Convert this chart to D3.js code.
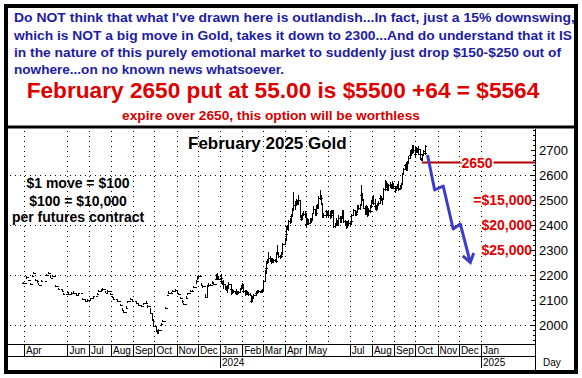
<!DOCTYPE html>
<html>
<head>
<meta charset="utf-8">
<script src="https://cdn.jsdelivr.net/npm/d3@7"></script>
<style>
  body { margin: 0; background: #fff; }
  svg { display: block; font-family: Arial, "Liberation Sans", sans-serif; }
</style>
</head>
<body>
<div id="chart"></div>
<script>
// --- texts ---
const noteLines = [
  "Do NOT think that what I've drawn here is outlandish...In fact, just a 15% downswing,",
  "which is NOT a big move in Gold, takes it down to 2300...And do understand that it IS",
  "in the nature of this purely emotional market to suddenly just drop $150-$250 out of",
  "nowhere...on no known news whatsoever."
];
const putLine = "February 2650 put at 55.00 is $5500 +64 = $5564";
const expireLine = "expire over 2650, this option will be worthless";
const chartTitle = "February 2025 Gold";
const moveNotes = ["$1 move = $100", "$100 = $10,000", "per futures contract"];

// --- axes ---
const yTicks = [2000, 2100, 2200, 2300, 2400, 2500, 2600, 2700];
const gridPrices = [2000, 2200, 2400, 2600];
const monthLabels = [
  ["2023-04-01", "Apr"], ["2023-06-01", "Jun"], ["2023-07-01", "Jul"], ["2023-08-01", "Aug"],
  ["2023-09-01", "Sep"], ["2023-10-01", "Oct"], ["2023-11-01", "Nov"], ["2023-12-01", "Dec"],
  ["2024-01-01", "Jan"], ["2024-02-01", "Feb"], ["2024-03-01", "Mar"], ["2024-04-01", "Apr"],
  ["2024-05-01", "May"], ["2024-07-01", "Jul"], ["2024-08-01", "Aug"], ["2024-09-01", "Sep"],
  ["2024-10-01", "Oct"], ["2024-11-01", "Nov"], ["2024-12-01", "Dec"], ["2025-01-01", "Jan"]
];
const gridMonths = [
  "2023-04-01", "2023-06-01", "2023-07-01", "2023-08-01", "2023-09-01", "2023-10-01",
  "2023-11-01", "2023-12-01", "2024-01-01", "2024-02-01", "2024-03-01", "2024-04-01",
  "2024-05-01", "2024-06-01", "2024-07-01", "2024-08-01", "2024-09-01", "2024-10-01",
  "2024-11-01", "2024-12-01", "2025-01-01"
];
const yearLabels = [["2024-01-01", "2024"], ["2025-01-01", "2025"]];

// --- option / projection ---
const strike = 2650;
const strikeStart = "2024-10-10";
const lossLabels = [["=$15,000", 2500], ["$20,000", 2400], ["$25,000", 2300]];
const arrowPath = [
  ["2024-10-18", 2680], ["2024-10-28", 2540], ["2024-11-09", 2556],
  ["2024-11-23", 2384], ["2024-12-03", 2404], ["2024-12-17", 2250]
];

// --- price bars: [date, high, low, close] ---
// 2023: thinly traded, scattered bars
const thin2023 = [
  ["2023-03-31", 2172, 2165, 2170], ["2023-04-04", 2195, 2185, 2192], ["2023-04-06", 2182, 2176, 2180],
  ["2023-04-10", 2170, 2162, 2165], ["2023-04-12", 2200, 2192, 2198], ["2023-04-13", 2212, 2205, 2208],
  ["2023-04-17", 2185, 2178, 2182], ["2023-04-19", 2178, 2170, 2175], ["2023-04-21", 2168, 2160, 2162],
  ["2023-04-25", 2180, 2172, 2178], ["2023-05-02", 2205, 2196, 2200], ["2023-05-04", 2212, 2205, 2210],
  ["2023-05-08", 2196, 2188, 2190], ["2023-05-10", 2200, 2193, 2198], ["2023-05-15", 2160, 2152, 2155],
  ["2023-05-18", 2150, 2140, 2145], ["2023-05-24", 2140, 2132, 2135], ["2023-05-26", 2130, 2122, 2125],
  ["2023-05-31", 2138, 2130, 2132], ["2023-06-02", 2128, 2120, 2125], ["2023-06-06", 2132, 2124, 2130],
  ["2023-06-09", 2135, 2128, 2130], ["2023-06-13", 2125, 2118, 2120], ["2023-06-16", 2130, 2122, 2128],
  ["2023-06-22", 2108, 2100, 2105], ["2023-06-26", 2100, 2092, 2095], ["2023-06-28", 2104, 2096, 2100],
  ["2023-07-03", 2110, 2102, 2108], ["2023-07-07", 2118, 2110, 2115], ["2023-07-12", 2128, 2120, 2125],
  ["2023-07-14", 2140, 2132, 2138], ["2023-07-18", 2145, 2138, 2142], ["2023-07-20", 2148, 2140, 2145],
  ["2023-07-24", 2135, 2128, 2130], ["2023-07-26", 2142, 2130, 2138], ["2023-07-31", 2130, 2122, 2125],
  ["2023-08-02", 2115, 2108, 2112], ["2023-08-04", 2110, 2100, 2105], ["2023-08-09", 2100, 2092, 2095],
  ["2023-08-14", 2085, 2078, 2080], ["2023-08-16", 2068, 2058, 2062], ["2023-08-18", 2058, 2050, 2052],
  ["2023-08-22", 2075, 2068, 2070], ["2023-08-24", 2098, 2090, 2095], ["2023-08-28", 2108, 2100, 2104],
  ["2023-08-31", 2100, 2092, 2096], ["2023-09-05", 2092, 2084, 2088], ["2023-09-08", 2085, 2078, 2080],
  ["2023-09-12", 2080, 2072, 2075], ["2023-09-15", 2090, 2082, 2088], ["2023-09-19", 2095, 2086, 2090],
  ["2023-09-21", 2080, 2070, 2075], ["2023-09-25", 2070, 2045, 2050], ["2023-09-27", 2050, 2015, 2020],
  ["2023-09-29", 2025, 1990, 1998], ["2023-10-03", 1990, 1972, 1978], ["2023-10-05", 1975, 1962, 1968],
  ["2023-10-06", 1985, 1965, 1980], ["2023-10-10", 2010, 1995, 2005], ["2023-10-12", 2022, 2012, 2018],
  ["2023-10-16", 2072, 2065, 2070], ["2023-10-18", 2122, 2115, 2120], ["2023-10-20", 2135, 2126, 2130],
  ["2023-10-24", 2132, 2125, 2128], ["2023-10-26", 2140, 2132, 2138], ["2023-10-30", 2145, 2136, 2140],
  ["2023-11-01", 2132, 2125, 2130], ["2023-11-03", 2128, 2120, 2125], ["2023-11-06", 2112, 2104, 2108],
  ["2023-11-08", 2100, 2090, 2095], ["2023-11-10", 2088, 2080, 2084], ["2023-11-14", 2115, 2105, 2110],
  ["2023-11-16", 2130, 2122, 2128], ["2023-11-20", 2140, 2132, 2135], ["2023-11-22", 2142, 2134, 2138],
  ["2023-11-24", 2155, 2148, 2152], ["2023-11-28", 2180, 2165, 2175], ["2023-11-30", 2195, 2180, 2190],
  ["2023-12-01", 2200, 2185, 2195], ["2023-12-05", 2170, 2155, 2160], ["2023-12-07", 2160, 2150, 2155],
  ["2023-12-11", 2125, 2108, 2112], ["2023-12-13", 2160, 2110, 2155], ["2023-12-15", 2170, 2158, 2162],
  ["2023-12-18", 2165, 2155, 2160], ["2023-12-20", 2175, 2165, 2170], ["2023-12-22", 2172, 2160, 2165],
  ["2023-12-26", 2190, 2180, 2185], ["2023-12-27", 2205, 2190, 2200], ["2023-12-28", 2208, 2185, 2190],
  ["2023-12-29", 2195, 2180, 2185]
];

const bars2024q1 = [
  ["2024-01-02", 2205, 2180, 2190], ["2024-01-03", 2192, 2165, 2170], ["2024-01-04", 2175, 2160, 2168],
  ["2024-01-05", 2180, 2145, 2165], ["2024-01-08", 2166, 2140, 2145], ["2024-01-09", 2155, 2140, 2150],
  ["2024-01-10", 2152, 2135, 2140], ["2024-01-11", 2160, 2130, 2150], ["2024-01-12", 2172, 2150, 2165],
  ["2024-01-16", 2166, 2140, 2145], ["2024-01-17", 2145, 2122, 2128], ["2024-01-18", 2142, 2125, 2138],
  ["2024-01-19", 2142, 2128, 2135], ["2024-01-22", 2138, 2125, 2130], ["2024-01-23", 2136, 2122, 2132],
  ["2024-01-24", 2145, 2128, 2130], ["2024-01-25", 2136, 2122, 2130], ["2024-01-26", 2138, 2126, 2132],
  ["2024-01-29", 2148, 2128, 2145], ["2024-01-30", 2152, 2140, 2148], ["2024-01-31", 2162, 2140, 2150],
  ["2024-02-01", 2170, 2148, 2160], ["2024-02-02", 2165, 2130, 2138], ["2024-02-05", 2140, 2118, 2125],
  ["2024-02-06", 2140, 2122, 2135], ["2024-02-07", 2138, 2128, 2132], ["2024-02-08", 2136, 2122, 2130],
  ["2024-02-09", 2132, 2118, 2124], ["2024-02-12", 2128, 2115, 2120], ["2024-02-13", 2122, 2092, 2098],
  ["2024-02-14", 2102, 2090, 2100], ["2024-02-15", 2115, 2095, 2112], ["2024-02-16", 2125, 2105, 2120],
  ["2024-02-20", 2132, 2118, 2128], ["2024-02-21", 2135, 2125, 2130], ["2024-02-22", 2140, 2126, 2132],
  ["2024-02-23", 2140, 2128, 2138], ["2024-02-26", 2138, 2128, 2132], ["2024-02-27", 2140, 2128, 2135],
  ["2024-02-28", 2142, 2130, 2138], ["2024-02-29", 2146, 2130, 2140], ["2024-03-01", 2180, 2138, 2178],
  ["2024-03-04", 2220, 2175, 2210], ["2024-03-05", 2240, 2205, 2230], ["2024-03-06", 2255, 2228, 2250],
  ["2024-03-07", 2265, 2245, 2258], ["2024-03-08", 2290, 2250, 2270], ["2024-03-11", 2275, 2258, 2268],
  ["2024-03-12", 2270, 2245, 2255], ["2024-03-13", 2270, 2250, 2265], ["2024-03-14", 2268, 2250, 2258],
  ["2024-03-15", 2265, 2250, 2260], ["2024-03-18", 2266, 2252, 2260], ["2024-03-19", 2262, 2248, 2255],
  ["2024-03-20", 2290, 2250, 2285], ["2024-03-21", 2320, 2280, 2292], ["2024-03-22", 2292, 2270, 2275],
  ["2024-03-25", 2280, 2265, 2272], ["2024-03-26", 2282, 2268, 2275], ["2024-03-27", 2290, 2270, 2285],
  ["2024-03-28", 2330, 2285, 2325]
];

const bars2024q2 = [
  ["2024-04-01", 2350, 2320, 2340], ["2024-04-02", 2370, 2335, 2365], ["2024-04-03", 2395, 2360, 2390],
  ["2024-04-04", 2400, 2380, 2385], ["2024-04-05", 2420, 2375, 2415], ["2024-04-08", 2430, 2405, 2425],
  ["2024-04-09", 2445, 2418, 2438], ["2024-04-10", 2445, 2410, 2440], ["2024-04-11", 2470, 2435, 2465],
  ["2024-04-12", 2532, 2455, 2480], ["2024-04-15", 2495, 2460, 2490], ["2024-04-16", 2500, 2475, 2495],
  ["2024-04-17", 2505, 2485, 2492], ["2024-04-18", 2500, 2480, 2490], ["2024-04-19", 2520, 2480, 2500],
  ["2024-04-22", 2495, 2430, 2435], ["2024-04-23", 2440, 2415, 2425], ["2024-04-24", 2440, 2420, 2428],
  ["2024-04-25", 2450, 2425, 2445], ["2024-04-26", 2455, 2435, 2445], ["2024-04-29", 2455, 2430, 2450],
  ["2024-04-30", 2450, 2400, 2405], ["2024-05-01", 2430, 2390, 2425], ["2024-05-02", 2430, 2405, 2415],
  ["2024-05-03", 2425, 2400, 2410], ["2024-05-06", 2430, 2405, 2428], ["2024-05-07", 2430, 2412, 2420],
  ["2024-05-08", 2425, 2410, 2420], ["2024-05-09", 2450, 2415, 2448], ["2024-05-10", 2475, 2445, 2465],
  ["2024-05-13", 2465, 2435, 2440], ["2024-05-14", 2450, 2435, 2448], ["2024-05-15", 2480, 2440, 2475],
  ["2024-05-16", 2485, 2465, 2470], ["2024-05-17", 2515, 2465, 2510], ["2024-05-20", 2540, 2500, 2520],
  ["2024-05-21", 2520, 2495, 2510], ["2024-05-22", 2512, 2480, 2485], ["2024-05-23", 2490, 2430, 2435],
  ["2024-05-24", 2450, 2430, 2440], ["2024-05-28", 2460, 2430, 2455], ["2024-05-29", 2460, 2440, 2445],
  ["2024-05-30", 2455, 2435, 2450], ["2024-05-31", 2460, 2430, 2440], ["2024-06-03", 2455, 2425, 2450],
  ["2024-06-04", 2455, 2430, 2440], ["2024-06-05", 2460, 2440, 2455], ["2024-06-06", 2462, 2445, 2460],
  ["2024-06-07", 2458, 2390, 2395], ["2024-06-10", 2410, 2390, 2405], ["2024-06-11", 2410, 2395, 2400],
  ["2024-06-12", 2430, 2395, 2420], ["2024-06-13", 2420, 2395, 2400], ["2024-06-14", 2440, 2395, 2430],
  ["2024-06-17", 2435, 2410, 2415], ["2024-06-18", 2430, 2410, 2428], ["2024-06-19", 2435, 2422, 2430],
  ["2024-06-20", 2460, 2425, 2455], ["2024-06-21", 2462, 2410, 2415], ["2024-06-24", 2420, 2400, 2415],
  ["2024-06-25", 2418, 2395, 2400], ["2024-06-26", 2405, 2385, 2395], ["2024-06-27", 2415, 2390, 2410],
  ["2024-06-28", 2420, 2398, 2410]
];

const bars2024q3 = [
  ["2024-07-01", 2418, 2398, 2410], ["2024-07-02", 2420, 2400, 2415], ["2024-07-03", 2445, 2412, 2440],
  ["2024-07-05", 2465, 2435, 2460], ["2024-07-08", 2462, 2435, 2440], ["2024-07-09", 2450, 2435, 2445],
  ["2024-07-10", 2458, 2440, 2455], ["2024-07-11", 2480, 2448, 2475], ["2024-07-12", 2480, 2460, 2470],
  ["2024-07-15", 2485, 2460, 2480], ["2024-07-16", 2525, 2475, 2520], ["2024-07-17", 2560, 2510, 2530],
  ["2024-07-18", 2530, 2495, 2500], ["2024-07-19", 2505, 2465, 2470], ["2024-07-22", 2475, 2440, 2450],
  ["2024-07-23", 2460, 2440, 2455], ["2024-07-24", 2480, 2450, 2470], ["2024-07-25", 2475, 2432, 2440],
  ["2024-07-26", 2470, 2438, 2462], ["2024-07-29", 2470, 2448, 2455], ["2024-07-30", 2480, 2450, 2475],
  ["2024-07-31", 2500, 2470, 2495], ["2024-08-01", 2515, 2485, 2495], ["2024-08-02", 2520, 2480, 2490],
  ["2024-08-05", 2505, 2460, 2475], ["2024-08-06", 2485, 2460, 2470], ["2024-08-07", 2480, 2455, 2465],
  ["2024-08-08", 2490, 2460, 2485], ["2024-08-09", 2495, 2475, 2490], ["2024-08-12", 2515, 2485, 2510],
  ["2024-08-13", 2520, 2500, 2510], ["2024-08-14", 2515, 2495, 2505], ["2024-08-15", 2510, 2480, 2505],
  ["2024-08-16", 2550, 2500, 2545], ["2024-08-19", 2555, 2535, 2545], ["2024-08-20", 2580, 2540, 2560],
  ["2024-08-21", 2575, 2550, 2565], ["2024-08-22", 2568, 2535, 2540], ["2024-08-23", 2565, 2535, 2560],
  ["2024-08-26", 2570, 2550, 2560], ["2024-08-27", 2572, 2555, 2565], ["2024-08-28", 2565, 2545, 2550],
  ["2024-08-29", 2575, 2545, 2570], ["2024-08-30", 2570, 2545, 2550], ["2024-09-03", 2555, 2530, 2540],
  ["2024-09-04", 2555, 2535, 2550], ["2024-09-05", 2565, 2545, 2560], ["2024-09-06", 2575, 2535, 2545],
  ["2024-09-09", 2555, 2540, 2550], ["2024-09-10", 2560, 2545, 2555], ["2024-09-11", 2570, 2545, 2565],
  ["2024-09-12", 2610, 2560, 2605], ["2024-09-13", 2630, 2600, 2625], ["2024-09-16", 2645, 2620, 2640],
  ["2024-09-17", 2645, 2625, 2630], ["2024-09-18", 2650, 2615, 2625], ["2024-09-19", 2655, 2615, 2650],
  ["2024-09-20", 2675, 2645, 2670], ["2024-09-23", 2685, 2665, 2680], ["2024-09-24", 2700, 2675, 2695],
  ["2024-09-25", 2705, 2680, 2690], ["2024-09-26", 2720, 2690, 2715], ["2024-09-27", 2722, 2690, 2700],
  ["2024-09-30", 2705, 2675, 2685]
];

const bars2024q4 = [
  ["2024-10-01", 2712, 2670, 2705], ["2024-10-02", 2712, 2690, 2700], ["2024-10-03", 2710, 2690, 2700],
  ["2024-10-04", 2715, 2680, 2705], ["2024-10-07", 2700, 2680, 2685], ["2024-10-08", 2690, 2660, 2665],
  ["2024-10-09", 2670, 2655, 2660], ["2024-10-10", 2685, 2655, 2680], ["2024-10-11", 2700, 2675, 2695],
  ["2024-10-14", 2700, 2680, 2690], ["2024-10-15", 2720, 2685, 2715]
];

// --- layout ---
const W = 582, H = 378;
const plot = { left: 8, right: 535, top: 129, bottom: 344 };
const axisRow2 = 356;
const blue = "#1c1ca4", red = "#e00000", darkRed = "#b00000", arrowBlue = "#3c3cc8";

const parseDate = d3.timeParse("%Y-%m-%d");

const x = d3.scaleTime()
  .domain([new Date(2023, 3, 1), new Date(2025, 0, 1)])
  .range([24, 481]);

const y = d3.scaleLinear()
  .domain([2000, 2700])
  .range([325, 150]);

const px = v => Math.round(v) + 0.5;

const svg = d3.select("#chart").append("svg")
  .attr("width", W)
  .attr("height", H);

svg.append("rect").attr("width", W).attr("height", H).attr("fill", "#fff");

// --- header text ---
const header = svg.append("g");

function fitText(sel, width) {
  const len = sel.node().getComputedTextLength();
  const fs = parseFloat(sel.attr("font-size"));
  sel.attr("font-size", (fs * width / len).toFixed(2));
}

// baselines and spans of the four note lines, as they sit in the box
const noteBaselines = [22, 39.5, 56.5, 73.5];
const noteWidths = [561, 558, 547, 270];
noteLines.forEach((t, i) => {
  header.append("text")
    .attr("x", 14)
    .attr("y", noteBaselines[i])
    .attr("font-size", 12.6)
    .attr("font-weight", "bold")
    .attr("fill", blue)
    .attr("textLength", noteWidths[i])
    .attr("lengthAdjust", "spacingAndGlyphs")
    .text(t);
});

const putText = header.append("text")
  .attr("x", 283)
  .attr("y", 98)
  .attr("text-anchor", "middle")
  .attr("font-size", 20)
  .attr("font-weight", "bold")
  .attr("fill", red)
  .text(putLine);
fitText(putText, 513);

const expText = header.append("text")
  .attr("x", 271)
  .attr("y", 120)
  .attr("text-anchor", "middle")
  .attr("font-size", 12)
  .attr("font-weight", "bold")
  .attr("fill", "#d40000")
  .text(expireLine);
fitText(expText, 298);

// --- grid ---
const grid = svg.append("g")
  .attr("stroke", "#000")
  .attr("stroke-width", 1)
  .attr("stroke-dasharray", "1,4")
  .attr("shape-rendering", "crispEdges");

grid.selectAll("line.h")
  .data(gridPrices)
  .join("line")
  .attr("class", "h")
  .attr("x1", plot.left + 2)
  .attr("x2", plot.right)
  .attr("y1", d => px(y(d)))
  .attr("y2", d => px(y(d)));

grid.selectAll("line.v")
  .data(gridMonths)
  .join("line")
  .attr("class", "v")
  .attr("x1", d => px(x(parseDate(d))))
  .attr("x2", d => px(x(parseDate(d))))
  .attr("y1", plot.top + 2)
  .attr("y2", plot.bottom);

// --- price bars (open tick = previous close) ---
const allBars = [...thin2023, ...bars2024q1, ...bars2024q2, ...bars2024q3, ...bars2024q4];
let prevClose = null;
const barPath = allBars.map(([date, hi, lo, cl]) => {
  const bx = px(x(parseDate(date)));
  const op = prevClose == null ? cl : prevClose;
  prevClose = cl;
  const yh = Math.round(y(hi)), yl = Math.max(Math.round(y(lo)), yh + 1);
  return `M${bx},${yh}V${yl}` +
    `M${bx - 1.5},${px(y(op))}H${bx}` +
    `M${bx},${px(y(cl))}H${bx + 1.5}`;
}).join("");

svg.append("path")
  .attr("d", barPath)
  .attr("fill", "none")
  .attr("stroke", "#000")
  .attr("stroke-width", 1)
  .attr("shape-rendering", "crispEdges");

// --- strike line + label ---
svg.append("line")
  .attr("x1", x(parseDate(strikeStart)))
  .attr("x2", plot.right)
  .attr("y1", y(strike))
  .attr("y2", y(strike))
  .attr("stroke", darkRed)
  .attr("stroke-width", 2);

svg.append("text")
  .attr("x", 477)
  .attr("y", y(strike) + 5)
  .attr("text-anchor", "middle")
  .attr("font-size", 14)
  .attr("font-weight", "bold")
  .attr("fill", red)
  .attr("stroke", "#fff")
  .attr("stroke-width", 3)
  .attr("paint-order", "stroke")
  .text(strike);

svg.selectAll("text.loss")
  .data(lossLabels)
  .join("text")
  .attr("class", "loss")
  .attr("x", 532)
  .attr("y", d => y(d[1]) + 5)
  .attr("text-anchor", "end")
  .attr("font-size", 14)
  .attr("font-weight", "bold")
  .attr("fill", red)
  .attr("stroke", "#fff")
  .attr("stroke-width", 3)
  .attr("paint-order", "stroke")
  .text(d => d[0]);

// --- projected path arrow ---
const arrowLine = d3.line()
  .x(d => x(parseDate(d[0])))
  .y(d => y(d[1]));

svg.append("path")
  .attr("d", arrowLine(arrowPath))
  .attr("fill", "none")
  .attr("stroke", arrowBlue)
  .attr("stroke-width", 3)
  .attr("stroke-linejoin", "round");

const tip = arrowPath[arrowPath.length - 1];
const prev = arrowPath[arrowPath.length - 2];
const tx = x(parseDate(tip[0])), ty = y(tip[1]);
const ang = Math.atan2(ty - y(prev[1]), tx - x(parseDate(prev[0])));
const headLen = 10, spread = 0.6;
svg.append("path")
  .attr("d", `M${tx - headLen * Math.cos(ang - spread)},${ty - headLen * Math.sin(ang - spread)}` +
    `L${tx},${ty}L${tx - headLen * Math.cos(ang + spread)},${ty - headLen * Math.sin(ang + spread)}`)
  .attr("fill", "none")
  .attr("stroke", arrowBlue)
  .attr("stroke-width", 3)
  .attr("stroke-linejoin", "miter");

// --- chart texts ---
svg.append("text")
  .attr("x", 188)
  .attr("y", 149)
  .attr("font-size", 17)
  .attr("font-weight", "bold")
  .text(chartTitle);

const noteY = [188, 205.5, 222];
svg.selectAll("text.move")
  .data(moveNotes)
  .join("text")
  .attr("class", "move")
  .attr("x", 78)
  .attr("y", (d, i) => noteY[i])
  .attr("text-anchor", "middle")
  .attr("font-size", 14)
  .attr("font-weight", "bold")
  .text(d => d);

// --- y axis ---
const yAxisG = svg.append("g").attr("shape-rendering", "crispEdges");

yAxisG.append("line")
  .attr("x1", px(plot.right)).attr("x2", px(plot.right))
  .attr("y1", plot.top).attr("y2", 371)
  .attr("stroke", "#000");

const minorTicks = d3.range(1940, 2781, 20);
yAxisG.selectAll("line.tick")
  .data(minorTicks)
  .join("line")
  .attr("class", "tick")
  .attr("x1", d => plot.right - (d % 100 === 0 ? 4 : 2))
  .attr("x2", plot.right)
  .attr("y1", d => px(y(d)))
  .attr("y2", d => px(y(d)))
  .attr("stroke", "#000");

yAxisG.selectAll("text")
  .data(yTicks)
  .join("text")
  .attr("x", 539)
  .attr("y", d => y(d) + 5)
  .attr("font-size", 13)
  .text(d => d);

// --- x axis (two rows) ---
const xAxisG = svg.append("g").attr("shape-rendering", "crispEdges");

[plot.bottom, axisRow2].forEach(yy => {
  xAxisG.append("line")
    .attr("x1", plot.left).attr("x2", plot.right)
    .attr("y1", px(yy)).attr("y2", px(yy))
    .attr("stroke", "#000");
});

xAxisG.selectAll("line.sep")
  .data(monthLabels)
  .join("line")
  .attr("class", "sep")
  .attr("x1", d => px(x(parseDate(d[0]))))
  .attr("x2", d => px(x(parseDate(d[0]))))
  .attr("y1", plot.bottom)
  .attr("y2", axisRow2)
  .attr("stroke", "#000");

xAxisG.selectAll("text.month")
  .data(monthLabels)
  .join("text")
  .attr("class", "month")
  .attr("x", d => x(parseDate(d[0])) + 2)
  .attr("y", 354)
  .attr("font-size", 10)
  .text(d => d[1]);

xAxisG.selectAll("line.year")
  .data(yearLabels)
  .join("line")
  .attr("class", "year")
  .attr("x1", d => px(x(parseDate(d[0]))))
  .attr("x2", d => px(x(parseDate(d[0]))))
  .attr("y1", axisRow2)
  .attr("y2", 368)
  .attr("stroke", "#000");

xAxisG.selectAll("text.year")
  .data(yearLabels)
  .join("text")
  .attr("class", "year")
  .attr("x", d => x(parseDate(d[0])) + 2)
  .attr("y", 366)
  .attr("font-size", 10)
  .text(d => d[1]);

svg.append("text")
  .attr("x", 543)
  .attr("y", 366)
  .attr("font-size", 10)
  .text("Day");

// --- frame ---
svg.append("line")
  .attr("x1", 6).attr("x2", 576)
  .attr("y1", 127).attr("y2", 127)
  .attr("stroke", "#000")
  .attr("stroke-width", 3);

svg.append("rect")
  .attr("x", 6).attr("y", 6)
  .attr("width", 570).attr("height", 366)
  .attr("fill", "none")
  .attr("stroke", "#000")
  .attr("stroke-width", 4);
</script>
</body>
</html>
